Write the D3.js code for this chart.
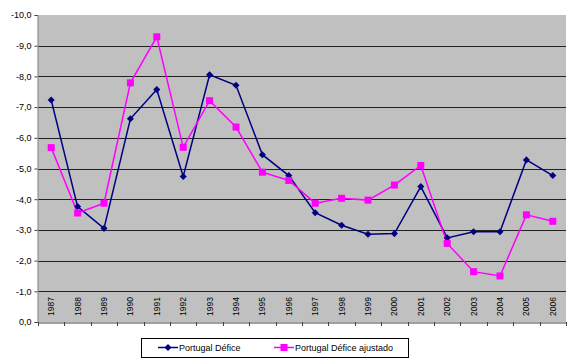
<!DOCTYPE html>
<html><head><meta charset="utf-8">
<script src="https://cdn.jsdelivr.net/npm/d3@7"></script>
<style>body{margin:0;background:#fff;}svg{display:block;font-family:"Liberation Sans",Arial,sans-serif;}</style>
</head><body>
<script>
const years = ["1987","1988","1989","1990","1991","1992","1993","1994","1995","1996","1997","1998","1999","2000","2001","2002","2003","2004","2005","2006"];
const defice = [-7.23,-3.76,-3.05,-6.62,-7.57,-4.74,-8.05,-7.71,-5.45,-4.77,-3.56,-3.15,-2.86,-2.88,-4.41,-2.74,-2.94,-2.94,-5.28,-4.77];
const deficeAjustado = [-5.68,-3.55,-3.87,-7.79,-9.29,-5.69,-7.21,-6.35,-4.88,-4.61,-3.87,-4.03,-3.97,-4.46,-5.10,-2.56,-1.64,-1.50,-3.49,-3.28];
const yTicks = [0,-1,-2,-3,-4,-5,-6,-7,-8,-9,-10];
const seriesNames = ["Portugal Défice","Portugal Défice ajustado"];

const W=575,H=358;
const svg=d3.select("body").append("svg").attr("width",W).attr("height",H);
const L=38,R=566,T=15,B=322;
const x=d3.scaleBand().domain(years).range([L,R]);
const y=d3.scaleLinear().domain([0,-10]).range([B,T]);

svg.append("rect").attr("x",L).attr("y",T).attr("width",R-L).attr("height",B-T).attr("fill","#c0c0c0");
// gridlines
svg.append("g").selectAll("line").data(yTicks.filter(d=>d!==0&&d!==-10)).join("line")
  .attr("x1",L).attr("x2",R).attr("y1",d=>Math.round(y(d))+0.5).attr("y2",d=>Math.round(y(d))+0.5)
  .attr("stroke","#222").attr("stroke-width",1);

// y axis
const fmt=d=>d.toFixed(1).replace(".",",").replace("-0,0","0,0");
const ya=svg.append("g").attr("transform",`translate(${L-0.5},0)`).call(d3.axisLeft(y).tickValues(yTicks).tickSize(3).tickPadding(3).tickFormat(fmt));
ya.select(".domain").attr("stroke","#808080");
ya.selectAll(".tick line").attr("stroke","#404040");
ya.selectAll("text").attr("font-size","9px").attr("fill","#000").attr("font-family","Liberation Sans, Arial, sans-serif");

// x axis
const xa=svg.append("g").attr("transform",`translate(0,${B+0.5})`).call(d3.axisBottom(x).tickSize(0).tickFormat(""));
xa.select(".domain").attr("stroke","#404040");
const bounds=d3.range(years.length+1).map(i=>L+i*x.bandwidth());
svg.append("g").selectAll("line").data(bounds).join("line")
  .attr("x1",d=>Math.round(d)+0.5).attr("x2",d=>Math.round(d)+0.5).attr("y1",B).attr("y2",B+4).attr("stroke","#404040");
svg.append("g").selectAll("text").data(years).join("text")
  .attr("transform",d=>`translate(${x(d)+x.bandwidth()/2+3},316) rotate(-90)`)
  .attr("font-size","8.5px").attr("fill","#000").text(d=>d);

const line=d3.line().x((d,i)=>x(years[i])+x.bandwidth()/2).y(d=>y(d));
svg.append("path").datum(defice).attr("d",line).attr("fill","none").attr("stroke","#000080").attr("stroke-width",1.5);
svg.append("path").datum(deficeAjustado).attr("d",line).attr("fill","none").attr("stroke","#ff00ff").attr("stroke-width",1.5);

const diamond=d3.symbol().type(d3.symbolDiamond2).size(32);
svg.append("g").selectAll("path").data(defice).join("path")
  .attr("transform",(d,i)=>`translate(${x(years[i])+x.bandwidth()/2},${y(d)})`)
  .attr("d",diamond).attr("fill","#000080");
svg.append("g").selectAll("rect").data(deficeAjustado).join("rect")
  .attr("x",(d,i)=>x(years[i])+x.bandwidth()/2-3.5).attr("y",d=>y(d)-3.5).attr("width",7).attr("height",7).attr("fill","#ff00ff");

// legend
const lg=svg.append("g");
lg.append("rect").attr("x",141.5).attr("y",338.5).attr("width",267).attr("height",19).attr("fill","#fff").attr("stroke","#000");
const items=[{name:seriesNames[0],c:"#000080",x0:158,m:"d"},{name:seriesNames[1],c:"#ff00ff",x0:274,m:"s"}];
items.forEach(it=>{
  lg.append("line").attr("x1",it.x0).attr("x2",it.x0+20).attr("y1",347.5).attr("y2",347.5).attr("stroke",it.c).attr("stroke-width",1.5);
  if(it.m==="d") lg.append("path").attr("transform",`translate(${it.x0+10},347.5)`).attr("d",diamond).attr("fill",it.c);
  else lg.append("rect").attr("x",it.x0+6.5).attr("y",344).attr("width",7).attr("height",7).attr("fill",it.c);
  lg.append("text").attr("x",it.x0+21).attr("y",350.5).attr("font-size","9px").attr("fill","#000").text(it.name);
});
</script>
</body></html>
